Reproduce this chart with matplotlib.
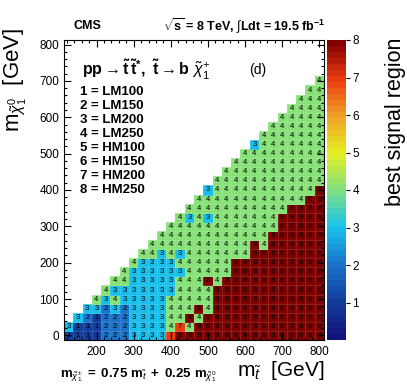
import numpy as np
import matplotlib.pyplot as plt
from matplotlib.colors import LinearSegmentedColormap
from matplotlib.ticker import MultipleLocator

plt.rcParams['font.family'] = ['Liberation Sans', 'DejaVu Sans']
plt.rcParams['mathtext.fontset'] = 'custom'
plt.rcParams['mathtext.rm'] = 'Liberation Sans'
plt.rcParams['mathtext.it'] = 'Liberation Sans:italic'
plt.rcParams['mathtext.bf'] = 'Liberation Sans:bold'

# scan grid (GeV)
m_stop = np.arange(125, 801, 25)
m_lsp = np.arange(0, 701, 25)

# best signal region per m_lsp row; each row starts at the first scanned
# m_stop point (m_stop - m_lsp >= 100)
region_rows = [
    "1111222333378888888888888888",  # 0
    "3111222333347488888888888888",  # 25
    "321222333344848888888888888",   # 50
    "33232333344484888888888888",    # 75
    "4343333344444888888888888",     # 100
    "433333334444888888888888",      # 125
    "44333334448488888888888",       # 150
    "4333333444448888888888",        # 175
    "433334444448888888888",         # 200
    "44343444444488888888",          # 225
    "4444444444484888888",           # 250
    "444444444444888888",            # 275
    "44444444444488888",             # 300
    "4343444444488888",              # 325
    "444444444448888",               # 350
    "44444444444488",                # 375
    "3444444444448",                 # 400
    "444444444444",                  # 425
    "44444444444",                   # 450
    "4444444444",                    # 475
    "444444444",                     # 500
    "34444444",                      # 525
    "4444444",                       # 550
    "444444",                        # 575
    "44444",                         # 600
    "4444",                          # 625
    "444",                           # 650
    "44",                            # 675
    "4",                             # 700
]
signal_regions = ["LM100", "LM150", "LM200", "LM250",
                  "HM100", "HM150", "HM200", "HM250"]

W, H = 407, 391
fig = plt.figure(figsize=(W / 100, H / 100), dpi=100)

def fx(px):
    return px / W

def fy(py):
    return 1 - py / H

ax = fig.add_axes([fx(64), fy(340), fx(324) - fx(64), fy(40) - fy(340)])

Z = np.full((len(m_lsp), len(m_stop)), np.nan)
for j, row in enumerate(region_rows):
    first = max(j - 1, 0)
    assert len(row) == len(m_stop) - first, (j, len(row))
    for i, ch in enumerate(row):
        Z[j, first + i] = int(ch)

cmap = LinearSegmentedColormap.from_list("root", [
    (0 / 8, "#12127a"), (1 / 8, "#123e9e"), (2 / 8, "#1a74cc"),
    (3 / 8, "#18c4ec"), (4 / 8, "#80e080"), (5 / 8, "#e4f020"),
    (6 / 8, "#f0a028"), (7 / 8, "#ec3c10"), (8 / 8, "#800000")], N=50)

x_edges = np.append(m_stop - 12.5, m_stop[-1] + 12.5)
y_edges = np.append(m_lsp - 12.5, m_lsp[-1] + 12.5)
mesh = ax.pcolormesh(x_edges, y_edges, np.ma.masked_invalid(Z),
                     cmap=cmap, vmin=0, vmax=8,
                     edgecolors=(1, 1, 1, 0.12), linewidth=0.4)

for j in range(len(m_lsp)):
    for i in range(len(m_stop)):
        if not np.isnan(Z[j, i]):
            ax.text(m_stop[i], m_lsp[j], "%d" % Z[j, i], ha='center',
                    va='center', fontsize=5.5, color='black')

ax.set_xlim(112.5, 812.5)
ax.set_ylim(-12.5, 812.5)
ax.xaxis.set_major_locator(MultipleLocator(100))
ax.xaxis.set_minor_locator(MultipleLocator(20))
ax.yaxis.set_major_locator(MultipleLocator(100))
ax.yaxis.set_minor_locator(MultipleLocator(20))
ax.tick_params(which='both', direction='in', top=True, right=True,
               labelsize=8.5, width=0.8)
ax.tick_params(which='major', length=5)
ax.tick_params(which='minor', length=2.5)
ax.tick_params(axis='x', pad=4)

cax = fig.add_axes([fx(327), fy(340), fx(346) - fx(327), fy(40) - fy(340)])
cb = fig.colorbar(mesh, cax=cax, ticks=range(1, 9))
cb.outline.set_visible(False)
cax.tick_params(direction='out', length=3, labelsize=8.5, width=0.8, pad=1.5)

# header
fig.text(fx(73), fy(26), "CMS", fontsize=9, fontweight='bold', va='center')
fig.text(fx(325), fy(26), r"$\mathbf{\sqrt{s}}$ = 8 TeV, $\int$Ldt = 19.5 fb$^{\mathbf{-1}}$",
         fontsize=9, fontweight='bold', ha='right', va='center')

fig.text(fx(82), fy(70),
         r"$\mathbf{pp \rightarrow \tilde{t}\,\tilde{t}^{*},\ \tilde{t} \rightarrow b}\ \tilde{\chi}^{+}_{1}$",
         fontsize=11.5, va='center')
fig.text(fx(249), fy(70), "(d)", fontsize=10, va='center')

for k, name in enumerate(signal_regions):
    fig.text(fx(80), fy(92 + 14 * k), "%d = %s" % (k + 1, name),
             fontsize=9.5, fontweight='bold', va='center')

fig.text(fx(15), fy(28), r"m$_{\tilde{\chi}^{0}_{1}}$  [GeV]", fontsize=16,
         rotation=90, ha='center', va='top')
fig.text(fx(325), fy(370), r"m$_{\tilde{t}}$  [GeV]", fontsize=15,
         ha='right', va='center')
fig.text(fx(395), fy(38), "best signal region", fontsize=15.5,
         rotation=90, ha='center', va='top')
fig.text(fx(60), fy(375),
         r"$\mathbf{m}_{\tilde{\chi}^{\pm}_{1}}\mathbf{\ =\ 0.75\ m}_{\tilde{t}}\mathbf{\ +\ 0.25\ m}_{\tilde{\chi}^{0}_{1}}$",
         fontsize=9.5, va='center')

fig.savefig("out.png", dpi=100)
